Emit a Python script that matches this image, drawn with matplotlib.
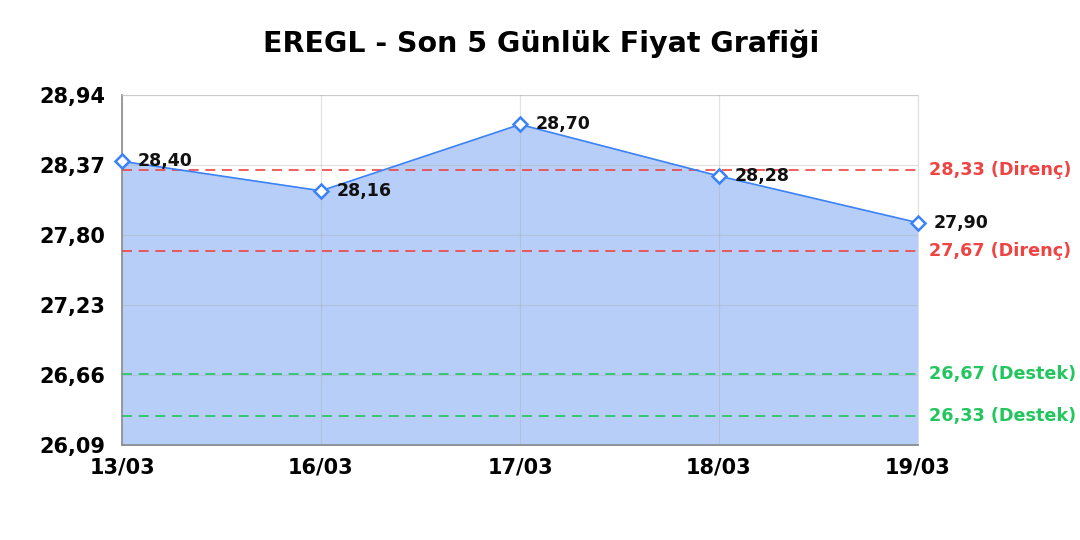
import numpy as np
import matplotlib.pyplot as plt

dates  = ["13/03", "16/03", "17/03", "18/03", "19/03"]
prices = [28.40, 28.16, 28.70, 28.28, 27.90]
resistance = [28.33, 27.67]
support    = [26.67, 26.33]
y_min, y_max = 26.09, 28.94

line_color = "#3b82f6"
fill_color = "#b7cff8"
red   = "#ef4444"
green = "#22c55e"

plt.rcParams['font.family'] = 'DejaVu Sans'

fig = plt.figure(figsize=(10.8, 5.4), dpi=100)
ax = fig.add_axes([122/1080, 1 - 445/540, (918-122)/1080, (445-95)/540])

x = np.arange(len(dates))
ax.fill_between(x, prices, y_min, color=fill_color, zorder=1)
ax.plot(x, prices, color=line_color, lw=1.2, zorder=3)
ax.plot(x, prices, ls="none", marker="D", ms=7, mfc="white", mec=line_color, mew=1.8,
        zorder=4, clip_on=False)

for xi, p in zip(x, prices):
    ax.annotate(f"{p:.2f}".replace(".", ","), (xi, p), xytext=(11, 0), textcoords="offset points",
                va="center", ha="left", fontsize=12.5, fontweight="bold", color="#111111", zorder=5)

for lvl in resistance:
    ax.axhline(lvl, color=red, ls=(0, (6, 4)), lw=1.2, zorder=2.6)
    ax.annotate(f"{lvl:.2f} (Direnç)".replace(".", ","), (1, lvl), xycoords=("axes fraction", "data"),
                xytext=(8, 0), textcoords="offset points", va="center", ha="left",
                fontsize=12.7, fontweight="bold", color=red)
for lvl in support:
    ax.axhline(lvl, color=green, ls=(0, (6, 4)), lw=1.2, zorder=2.6)
    ax.annotate(f"{lvl:.2f} (Destek)".replace(".", ","), (1, lvl), xycoords=("axes fraction", "data"),
                xytext=(8, 0), textcoords="offset points", va="center", ha="left",
                fontsize=12.7, fontweight="bold", color=green)

yticks = np.linspace(y_min, y_max, 6)
ax.set_yticks(yticks)
ax.set_yticklabels([f"{t:.2f}".replace(".", ",") for t in yticks], fontsize=15, fontweight="bold")
ax.set_xticks(x)
ax.set_xticklabels(dates, fontsize=15, fontweight="bold")
ax.set_xlim(0, len(dates) - 1)
ax.set_ylim(y_min, y_max)
ax.tick_params(length=0)
ax.tick_params(axis="x", pad=9)
ax.tick_params(axis="y", pad=12)
ax.grid(True, color="#a0a0a0", alpha=0.3, lw=0.9)
ax.set_axisbelow(False)
for s in ["top", "right"]:
    ax.spines[s].set_color("#e0e0e0")
for s in ["left", "bottom"]:
    ax.spines[s].set_color("#888888")
    ax.spines[s].set_linewidth(1.2)

fig.text(541/1080, 1 - 44/540, "EREGL - Son 5 Günlük Fiyat Grafiği", ha="center", va="center",
         fontsize=20.5, fontweight="bold")

fig.savefig("out.png", dpi=100)
